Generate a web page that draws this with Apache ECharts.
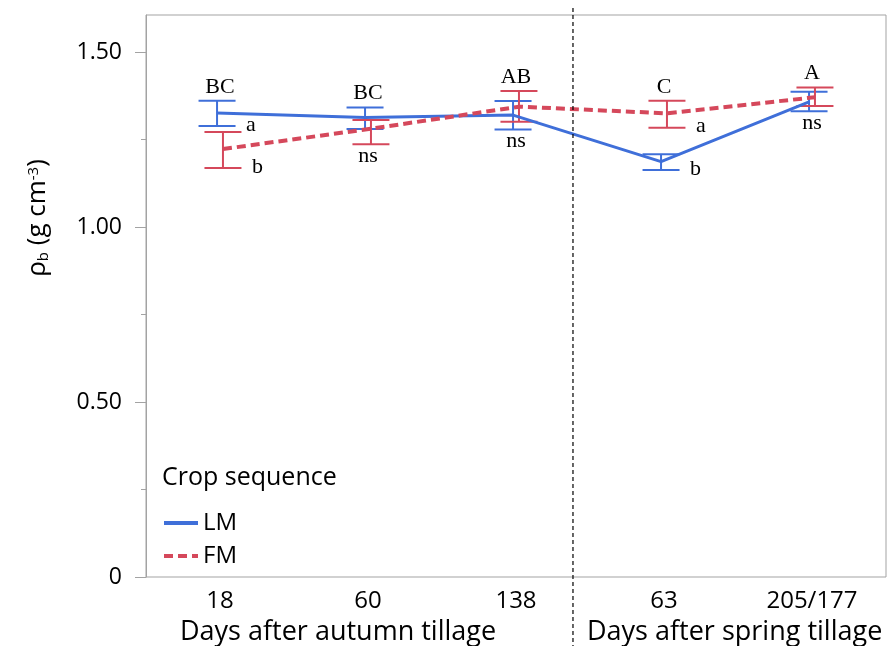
<!DOCTYPE html>
<html>
<head>
<meta charset="utf-8">
<script src="https://cdn.jsdelivr.net/npm/echarts@6/dist/echarts.min.js"></script>
<style>
html, body { margin: 0; padding: 0; background: #fff; }
#chart { width: 894px; height: 646px; }
</style>
</head>
<body>
<div id="chart"></div>
<script>
const categories = ['18', '60', '138', '63', '205/177']
// LM series: mean and error bar ends
const lmMean = [1.326, 1.313, 1.320, 1.187, 1.358]
const lmLow = [1.289, 1.280, 1.279, 1.163, 1.331]
const lmHigh = [1.361, 1.342, 1.360, 1.208, 1.387]
// FM series
const fmMean = [1.223, 1.281, 1.344, 1.325, 1.371]
const fmLow = [1.169, 1.237, 1.301, 1.284, 1.346]
const fmHigh = [1.272, 1.306, 1.389, 1.361, 1.399]
// significance letters
const dateLetters = ['BC', 'BC', 'AB', 'C', 'A']
const lmLetters = ['a', '', '', 'b', '']
const fmLetters = ['b', '', '', 'a', '']
const nsLabels = ['', 'ns', 'ns', '', 'ns']
const yTicks = [0, 0.5, 1, 1.5]
const yMinorTicks = [0.25, 0.75, 1.25]
const dividerAt = 2.385

const blue = '#3f6fd9'
const red = '#d5485b'
const dodge = 0.02
const sansFont = '"Open Sans", "Noto Sans", sans-serif'
const serifFont = '"Liberation Serif", "DejaVu Serif", serif'

const chart = echarts.init(document.getElementById('chart'))

function errorBar (name, color, offset, low, high) {
  return {
    name: name + ' err',
    type: 'custom',
    xAxisIndex: 1,
    z: 4,
    silent: true,
    data: low.map((v, i) => [i + offset, v, high[i]]),
    renderItem: (params, api) => {
      const top = api.coord([api.value(0), api.value(2)])
      const bot = api.coord([api.value(0), api.value(1)])
      const hw = 18.5
      const style = { stroke: color, lineWidth: 2 }
      return {
        type: 'group',
        children: [
          { type: 'line', shape: { x1: top[0], y1: top[1], x2: bot[0], y2: bot[1] }, style: style },
          { type: 'line', shape: { x1: top[0] - hw, y1: top[1], x2: top[0] + hw, y2: top[1] }, style: style },
          { type: 'line', shape: { x1: bot[0] - hw, y1: bot[1], x2: bot[0] + hw, y2: bot[1] }, style: style }
        ]
      }
    }
  }
}

const letterStyle = { fontFamily: serifFont, fontSize: 22, fill: '#000' }

const option = {
  animation: false,
  grid: {
    left: 146,
    right: 8,
    top: 15,
    bottom: 69,
    show: true,
    borderColor: '#a3a3a3',
    borderWidth: 1
  },
  legend: {
    orient: 'vertical',
    left: 157,
    top: 506,
    itemWidth: 34,
    itemHeight: 20,
    itemGap: 9,
    itemStyle: { opacity: 0 },
    lineStyle: { width: 4 },
    textStyle: { fontFamily: sansFont, fontSize: 24, color: '#000' },
    data: ['LM', 'FM']
  },
  xAxis: [
    {
      type: 'category',
      position: 'bottom',
      data: categories,
      boundaryGap: true,
      axisLine: { show: false, onZero: false },
      axisTick: { show: false },
      axisLabel: { fontFamily: sansFont, fontSize: 24, color: '#000', margin: 12 }
    },
    {
      type: 'value',
      position: 'bottom',
      min: -0.5,
      max: 4.5,
      show: false,
      axisLine: { onZero: false }
    }
  ],
  yAxis: [
    {
      type: 'value',
      position: 'left',
      min: 0,
      max: 1.606,
      axisLine: { show: true, onZero: false, lineStyle: { color: '#a3a3a3', width: 1 } },
      axisTick: { show: true, length: 11, customValues: yTicks, lineStyle: { color: '#a3a3a3' } },
      axisLabel: {
        customValues: yTicks,
        margin: 24,
        fontFamily: sansFont,
        fontSize: 23,
        color: '#000',
        formatter: (v) => v === 0 ? '0' : v.toFixed(2)
      },
      splitLine: { show: false }
    },
    {
      type: 'value',
      position: 'left',
      min: 0,
      max: 1.606,
      axisLine: { show: false, onZero: false },
      axisTick: { show: true, length: 5, customValues: yMinorTicks, lineStyle: { color: '#a3a3a3' } },
      axisLabel: { show: false },
      splitLine: { show: false }
    }
  ],
  series: [
    {
      name: 'LM',
      type: 'line',
      xAxisIndex: 1,
      symbol: 'none',
      z: 5,
      color: blue,
      lineStyle: { color: blue, width: 3 },
      data: lmMean.map((v, i) => [i - dodge, v])
    },
    {
      name: 'FM',
      type: 'line',
      xAxisIndex: 1,
      symbol: 'none',
      z: 5,
      color: red,
      lineStyle: { color: red, width: 4, type: [9, 5] },
      data: fmMean.map((v, i) => [i + dodge, v])
    },
    errorBar('LM', blue, -dodge, lmLow, lmHigh),
    errorBar('FM', red, dodge, fmLow, fmHigh),
    {
      name: 'letters',
      type: 'custom',
      xAxisIndex: 1,
      silent: true,
      z: 6,
      data: categories.map((c, i) => [i, Math.max(lmHigh[i], fmHigh[i]), Math.min(lmLow[i], fmLow[i])]),
      renderItem: (params, api) => {
        const i = params.dataIndex
        const top = api.coord([i, api.value(1)])
        const bot = api.coord([i, api.value(2)])
        const lmBot = api.coord([i - dodge, lmLow[i]])
        const fmBot = api.coord([i + dodge, fmLow[i]])
        const children = [
          { type: 'text', x: top[0], y: top[1] - 14, style: Object.assign({ text: dateLetters[i], align: 'center', verticalAlign: 'middle' }, letterStyle) }
        ]
        if (nsLabels[i]) {
          children.push({ type: 'text', x: bot[0], y: bot[1] + 12, style: Object.assign({ text: nsLabels[i], align: 'center', verticalAlign: 'middle' }, letterStyle) })
        }
        if (lmLetters[i]) {
          children.push({ type: 'text', x: lmBot[0] + 29, y: lmBot[1] - 1, style: Object.assign({ text: lmLetters[i], align: 'left', verticalAlign: 'middle' }, letterStyle) })
        }
        if (fmLetters[i]) {
          children.push({ type: 'text', x: fmBot[0] + 29, y: fmBot[1] - 1, style: Object.assign({ text: fmLetters[i], align: 'left', verticalAlign: 'middle' }, letterStyle) })
        }
        return { type: 'group', children: children }
      }
    }
  ]
}

chart.setOption(option)

const divX = chart.convertToPixel({ xAxisIndex: 1 }, dividerAt)
chart.setOption({
  graphic: [
    {
      type: 'line',
      shape: { x1: divX, y1: 8, x2: divX, y2: 646 },
      style: { stroke: '#000', lineWidth: 1.2, lineDash: [4, 3] },
      z: 10
    },
    {
      type: 'text',
      x: 162,
      y: 478,
      style: { text: 'Crop sequence', fontFamily: sansFont, fontSize: 25, fill: '#000', verticalAlign: 'middle' }
    },
    {
      type: 'text',
      x: 180,
      y: 632,
      style: { text: 'Days after autumn tillage', fontFamily: sansFont, fontSize: 27, fill: '#000', verticalAlign: 'middle' }
    },
    {
      type: 'text',
      x: 587,
      y: 632,
      style: { text: 'Days after spring tillage', fontFamily: sansFont, fontSize: 27, fill: '#000', verticalAlign: 'middle' }
    },
    {
      type: 'text',
      x: 38,
      y: 218,
      rotation: Math.PI / 2,
      style: {
        text: '{n|ρ}{sub|b}{n| (g cm}{sup|-3}{n|)}',
        align: 'center',
        verticalAlign: 'middle',
        rich: {
          n: { fontFamily: sansFont, fontSize: 26, fill: '#000', lineHeight: 32, verticalAlign: 'middle' },
          sub: { fontFamily: sansFont, fontSize: 15, fill: '#000', lineHeight: 32, verticalAlign: 'bottom', padding: [0, 0, 3, 0] },
          sup: { fontFamily: sansFont, fontSize: 15, fill: '#000', lineHeight: 32, verticalAlign: 'top', padding: [4, 0, 0, 0] }
        }
      }
    }
  ]
})
</script>
</body>
</html>
